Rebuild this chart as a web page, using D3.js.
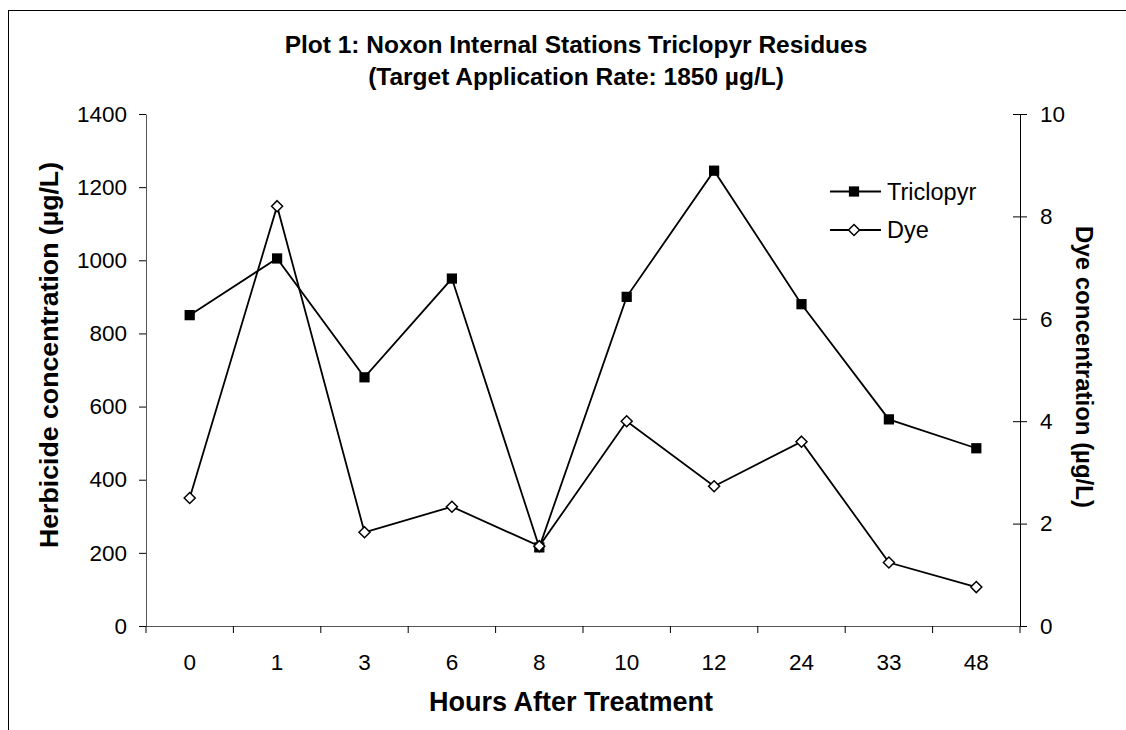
<!DOCTYPE html>
<html>
<head>
<meta charset="utf-8">
<script src="https://cdn.jsdelivr.net/npm/d3@7"></script>
<style>
  body { margin: 0; background: #fff; }
  svg { display: block; font-family: "Liberation Sans", Arial, sans-serif; }
</style>
</head>
<body>
<div id="chart"></div>
<script>
// Width and height
var chart_width  = 1126;
var chart_height = 730;

// Data
var hours      = ['0', '1', '3', '6', '8', '10', '12', '24', '33', '48'];
var triclopyr  = [850, 1005, 680, 950, 215, 900, 1245, 880, 565, 486];
var dye        = [2.5, 8.2, 1.83, 2.33, 1.56, 4.0, 2.73, 3.6, 1.24, 0.76];
var left_ticks  = [0, 200, 400, 600, 800, 1000, 1200, 1400];
var right_ticks = [0, 2, 4, 6, 8, 10];
var title_lines = ['Plot 1: Noxon Internal Stations Triclopyr Residues',
                   '(Target Application Rate: 1850 \u00b5g/L)'];

// Plot area
var plot = { left: 146, right: 1020, top: 114, bottom: 626 };

var x = d3.scaleBand()
    .domain(hours)
    .range([plot.left, plot.right]);

var y_left = d3.scaleLinear()
    .domain([0, 1400])
    .range([plot.bottom, plot.top]);

var y_right = d3.scaleLinear()
    .domain([0, 10])
    .range([plot.bottom, plot.top]);

var svg = d3.select('#chart')
    .append('svg')
    .attr('width', chart_width)
    .attr('height', chart_height);

// chart border (runs off the right and bottom edges)
svg.append('rect')
    .attr('x', 8.5)
    .attr('y', 10.5)
    .attr('width', 1200)
    .attr('height', 800)
    .attr('fill', '#fff')
    .attr('stroke', '#000')
    .attr('stroke-width', 1);

// Title
svg.append('g')
    .selectAll('text')
    .data(title_lines)
    .enter()
    .append('text')
    .attr('x', 576)
    .attr('y', (d, i) => 53 + i * 32)
    .attr('text-anchor', 'middle')
    .attr('font-size', 24.5)
    .attr('font-weight', 'bold')
    .text((d) => d);

// Left axis
var left_axis = svg.append('g')
    .attr('transform', 'translate(' + plot.left + ',0)')
    .call(d3.axisLeft(y_left).tickValues(left_ticks).tickFormat(d3.format('d'))
        .tickSize(7).tickPadding(12).tickSizeOuter(0));

// Right axis (ticks cross the line)
var right_axis = svg.append('g')
    .attr('transform', 'translate(' + plot.right + ',0)')
    .call(d3.axisRight(y_right).tickValues(right_ticks).tickFormat(d3.format('d'))
        .tickSize(7).tickPadding(13).tickSizeOuter(0));
right_axis.selectAll('.tick line').attr('x1', -7);

// Bottom axis: ticks between categories
var bottom_axis = svg.append('g')
    .attr('transform', 'translate(0,' + plot.bottom + ')')
    .call(d3.axisBottom(x).tickSize(0).tickPadding(28));

bottom_axis.selectAll('.tick-sep')
    .data(hours.concat(['end']))
    .enter()
    .append('line')
    .attr('class', 'tick-sep')
    .attr('x1', (d, i) => i < hours.length ? x(d) : x.range()[1])
    .attr('x2', (d, i) => i < hours.length ? x(d) : x.range()[1])
    .attr('y1', 0)
    .attr('y2', 7)
    .attr('stroke', '#000');

svg.selectAll('.domain').attr('stroke', '#555');
svg.selectAll('.tick text')
    .attr('font-size', 22.5)
    .attr('font-family', '"Liberation Sans", Arial, sans-serif')
    .attr('fill', '#000');
svg.selectAll('.tick line').attr('stroke', '#000');
right_axis.select('.domain').attr('stroke', '#000');

// Axis titles
svg.append('text')
    .attr('transform', 'translate(' + 58 + ',' + 355 + ') rotate(-90)')
    .attr('text-anchor', 'middle')
    .attr('font-size', 26.7)
    .attr('font-weight', 'bold')
    .text('Herbicide concentration (\u00b5g/L)');

svg.append('text')
    .attr('transform', 'translate(' + 1076 + ',' + 367 + ') rotate(90)')
    .attr('text-anchor', 'middle')
    .attr('font-size', 24)
    .attr('font-weight', 'bold')
    .text('Dye concentration (\u00b5g/L)');

svg.append('text')
    .attr('x', 571)
    .attr('y', 711)
    .attr('text-anchor', 'middle')
    .attr('font-size', 27)
    .attr('font-weight', 'bold')
    .text('Hours After Treatment');

var cx = (d) => x(d) + x.bandwidth() / 2;

// Triclopyr line
var tri_line = d3.line()
    .x((d, i) => cx(hours[i]))
    .y((d) => y_left(d));

svg.append('path')
    .datum(triclopyr)
    .attr('d', tri_line)
    .attr('fill', 'none')
    .attr('stroke', '#000')
    .attr('stroke-width', 1.8);

// Dye line
var dye_line = d3.line()
    .x((d, i) => cx(hours[i]))
    .y((d) => y_right(d));

svg.append('path')
    .datum(dye)
    .attr('d', dye_line)
    .attr('fill', 'none')
    .attr('stroke', '#000')
    .attr('stroke-width', 1.8);

var square = d3.symbol().type(d3.symbolSquare).size(105);
var diamond = 'M0,-5.5L5.5,0L0,5.5L-5.5,0Z';

svg.append('g')
    .selectAll('path')
    .data(triclopyr)
    .enter()
    .append('path')
    .attr('d', square)
    .attr('transform', (d, i) => 'translate(' + cx(hours[i]) + ',' + y_left(d) + ')')
    .attr('fill', '#000');

svg.append('g')
    .selectAll('path')
    .data(dye)
    .enter()
    .append('path')
    .attr('d', diamond)
    .attr('transform', (d, i) => 'translate(' + cx(hours[i]) + ',' + y_right(d) + ')')
    .attr('fill', '#fff')
    .attr('stroke', '#000')
    .attr('stroke-width', 1.5);

// Legend
var legend = svg.append('g')
    .attr('transform', 'translate(830,0)');

var legend_items = [
    { name: 'Triclopyr', y: 191.5, mark: square, fill: '#000' },
    { name: 'Dye', y: 230, mark: diamond, fill: '#fff' }
];

legend_items.forEach((it) => {
    legend.append('line')
        .attr('x1', 0).attr('x2', 51)
        .attr('y1', it.y).attr('y2', it.y)
        .attr('stroke', '#000')
        .attr('stroke-width', 1.8);
    legend.append('path')
        .attr('d', it.mark)
        .attr('transform', 'translate(24,' + it.y + ')')
        .attr('fill', it.fill)
        .attr('stroke', it.fill === '#fff' ? '#000' : 'none')
        .attr('stroke-width', 1.5);
    legend.append('text')
        .attr('x', 57)
        .attr('y', it.y + 8)
        .attr('font-size', 23.5)
        .text(it.name);
});
</script>
</body>
</html>
